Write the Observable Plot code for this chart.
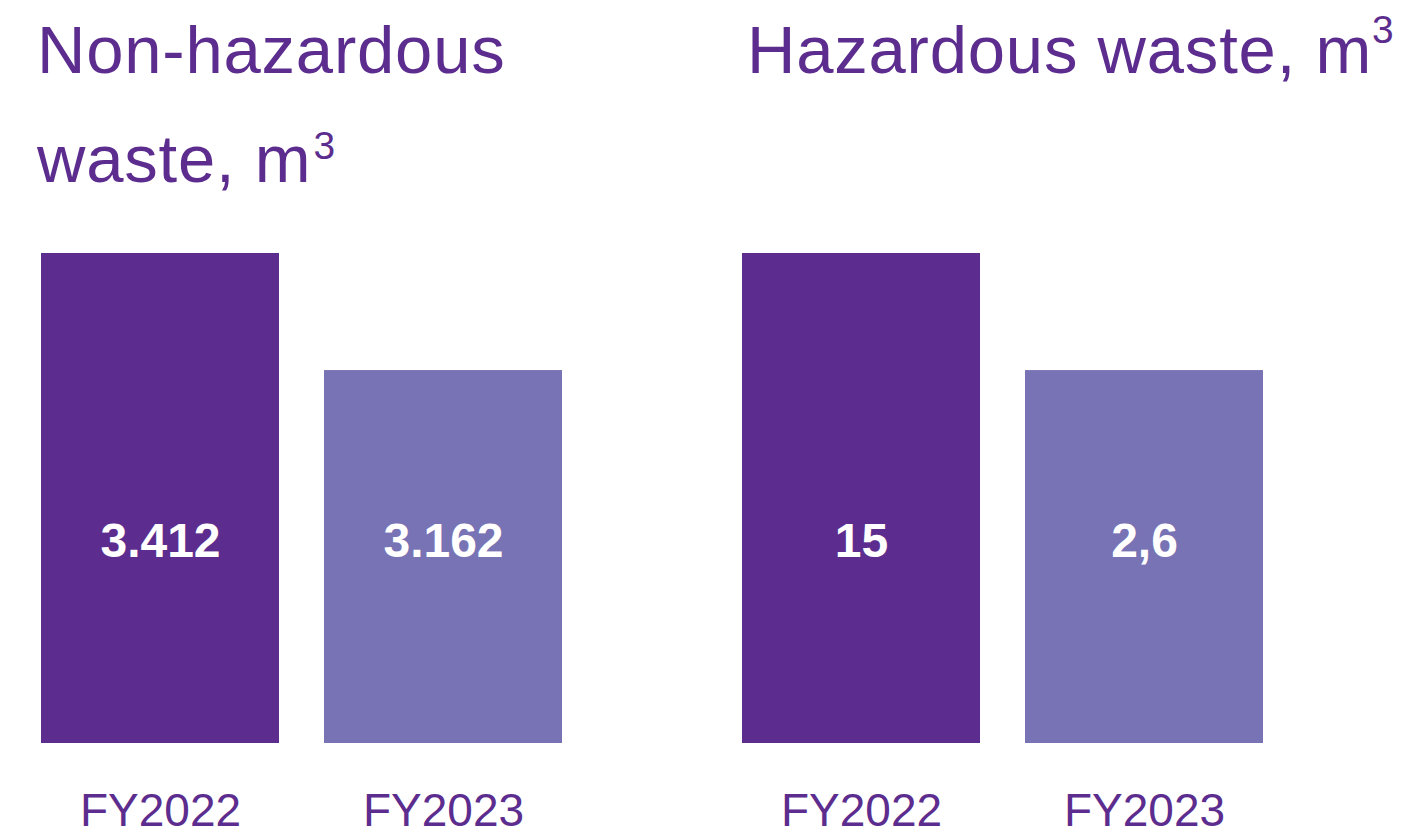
<!DOCTYPE html>
<html>
<head>
<meta charset="utf-8">
<script src="https://cdn.jsdelivr.net/npm/d3@7"></script>
<script src="https://cdn.jsdelivr.net/npm/@observablehq/plot@0.6"></script>
<style>
  html, body { margin: 0; padding: 0; background: #fff; }
  body { width: 1404px; height: 839px; position: relative; overflow: hidden; font-family: "Liberation Sans", Arial, sans-serif; }
  .title { position: absolute; top: -5px; color: #5c2d8e; font-size: 67px; line-height: 109px; letter-spacing: 0.8px; white-space: nowrap; }
  .title sup { font-size: 0.58em; vertical-align: 0; position: relative; letter-spacing: 0; }
  .panel { position: absolute; top: 220px; }
</style>
</head>
<body>
<div class="title" style="left:37px">Non-hazardous<br>waste, m<sup style="top:-23px;margin-left:2px">3</sup></div>
<div class="title" style="left:747px">Hazardous waste, m<sup style="top:-30px;margin-left:0px">3</sup></div>
<div class="panel" id="p1" style="left:0px"></div>
<div class="panel" id="p2" style="left:701px"></div>
<script>
const years = ["FY2022", "FY2023"];
const nonHazValues = [3412, 3162];
const nonHazLabels = ["3.412", "3.162"];
const hazValues = [15, 2.6];
const hazLabels = ["15", "2,6"];
// truncated axis baselines (the original chart does not start at zero)
const nonHazBase = 2365.6;
const hazBase = -36.9;
const barColors = ["#5c2d8e", "#7873b4"];
const textColor = "#5c2d8e";

function panel(values, labels, base) {
  const data = years.map((y, i) => ({year: y, value: values[i], label: labels[i]}));
  return Plot.plot({
    width: 701,
    height: 619,
    marginTop: 33,
    marginBottom: 96,
    marginLeft: 41,
    marginRight: 139,
    style: {fontFamily: "'Liberation Sans', Arial, sans-serif", color: textColor, background: "transparent", overflow: "visible"},
    x: {domain: years, paddingInner: 45 / 283, paddingOuter: 0, label: null},
    y: {domain: [base, values[0]], axis: null},
    color: {domain: years, range: barColors},
    marks: [
      Plot.barY(data, {x: "year", y1: base, y2: "value", fill: "year"}),
      Plot.text(data, {x: "year", text: "label", frameAnchor: "top", dy: 288, fill: "white", fontSize: 48, fontWeight: "bold", lineAnchor: "middle"}),
      Plot.axisX({tickSize: 0, tickPadding: 50, fontSize: 46, label: null})
    ]
  });
}

document.getElementById("p1").appendChild(panel(nonHazValues, nonHazLabels, nonHazBase));
document.getElementById("p2").appendChild(panel(hazValues, hazLabels, hazBase));
</script>
</body>
</html>
